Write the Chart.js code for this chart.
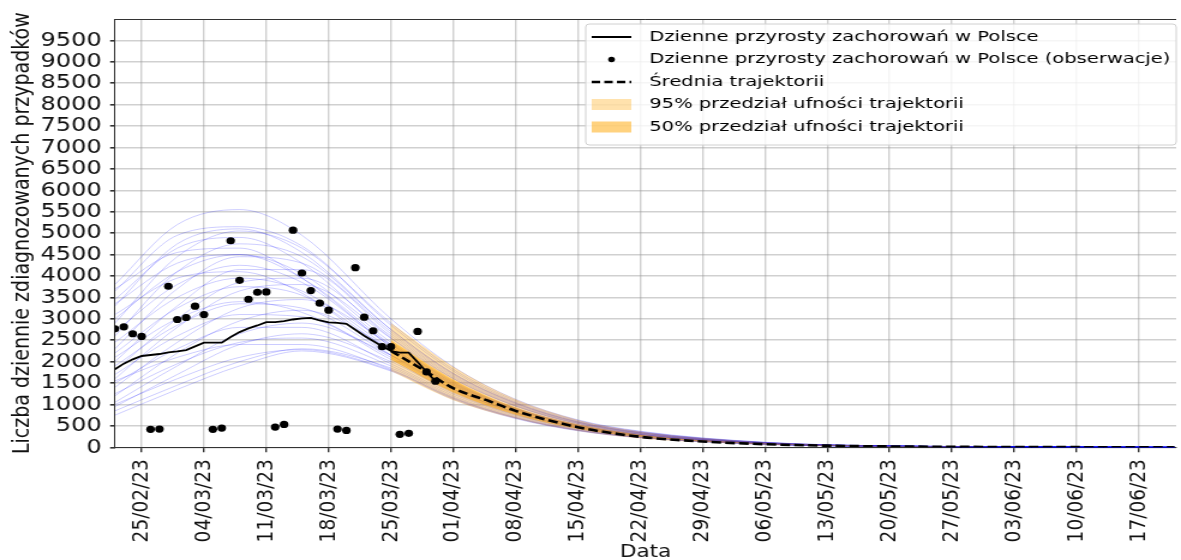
<!DOCTYPE html>
<html>
<head>
<meta charset="utf-8">
<script src="https://cdn.jsdelivr.net/npm/chart.js@4.4.0/dist/chart.umd.min.js"></script>
<style>
  html, body { margin: 0; padding: 0; background: #fff; overflow: hidden; }
</style>
</head>
<body>
<!-- the reference figure is stretched sideways, so the canvas is drawn narrower and widened by css -->
<canvas id="chart" width="984" height="560" style="width:1181px;height:560px"></canvas>
<script>
// x values are days counted from 22/02/23
const xTickLabels = ['25/02/23', '04/03/23', '11/03/23', '18/03/23', '25/03/23', '01/04/23', '08/04/23', '15/04/23',
  '22/04/23', '29/04/23', '06/05/23', '13/05/23', '20/05/23', '27/05/23', '03/06/23', '10/06/23', '17/06/23'];

// 22/02 .. 30/03, one value per day
const observed = [2767, 2814, 2651, 2589, 419, 426, 3760, 2984, 3031, 3295, 3101, 419, 450, 4822, 3899, 3457,
  3620, 3628, 473, 535, 5070, 4070, 3659, 3364, 3202, 426, 395, 4194, 3039, 2721, 2349, 2349, 302, 326, 2705, 1760, 1543];
const dailyCases = [1822, 1953, 2054, 2132, 2155, 2178, 2217, 2240, 2271, 2357, 2442, 2442, 2442, 2574, 2690, 2775,
  2845, 2922, 2922, 2946, 2984, 3008, 3023, 2961, 2915, 2907, 2884, 2744, 2605, 2481, 2357, 2248, 2209, 2209, 1990, 1760, 1543];

const meanDays = [31, 35, 38, 42, 45, 52, 59, 66, 73, 80, 87, 101, 119];
const meanTraj = [2250, 1760, 1380, 1080, 850, 470, 245, 135, 72, 38, 20, 6, 1];

const bandDays = [31, 38, 45, 52, 59, 66, 73, 80, 87, 101, 119];
const ci95Upper = [2900, 1880, 1120, 640, 370, 215, 120, 65, 35, 9, 1];
const ci95Lower = [1780, 1100, 670, 380, 205, 115, 60, 30, 15, 4, 0];
const ci50Upper = [2500, 1580, 930, 530, 295, 165, 90, 48, 25, 6, 0];
const ci50Lower = [2050, 1280, 760, 430, 240, 135, 72, 38, 19, 5, 0];

const trajDays = [0, 7, 14, 21, 31, 38, 45, 52, 59, 73, 87, 119];
const trajectories = [
  [3800, 5200, 5550, 4950, 3000, 1880, 1120, 640, 375, 118, 34, 1],
  [3650, 4950, 5150, 4700, 2850, 1780, 1060, 610, 355, 112, 32, 1],
  [3300, 4750, 5100, 4550, 2750, 1720, 1030, 590, 345, 108, 31, 1],
  [2900, 4450, 5050, 4650, 2900, 1820, 1090, 625, 365, 115, 33, 1],
  [3450, 4650, 4900, 4300, 2550, 1600, 960, 550, 320, 100, 29, 1],
  [2600, 4100, 4750, 4450, 2750, 1730, 1040, 595, 345, 108, 31, 1],
  [2300, 3700, 4450, 4300, 2700, 1700, 1020, 585, 340, 106, 30, 1],
  [3000, 4100, 4500, 4050, 2450, 1540, 920, 530, 308, 96, 27, 1],
  [2000, 3300, 4150, 4150, 2650, 1670, 1000, 575, 334, 104, 30, 1],
  [2700, 3800, 4250, 3850, 2350, 1480, 890, 510, 296, 92, 26, 1],
  [1800, 3000, 3850, 3950, 2600, 1640, 980, 565, 328, 102, 29, 1],
  [2450, 3500, 3950, 3650, 2300, 1450, 870, 500, 290, 90, 26, 1],
  [1600, 2800, 3650, 3800, 2550, 1610, 965, 555, 322, 100, 29, 1],
  [2200, 3250, 3750, 3550, 2250, 1420, 850, 490, 284, 88, 25, 1],
  [3100, 3950, 4100, 3600, 2150, 1360, 815, 470, 272, 85, 24, 1],
  [1400, 2450, 3250, 3450, 2400, 1510, 905, 520, 302, 94, 27, 1],
  [1900, 2850, 3350, 3250, 2150, 1360, 815, 470, 272, 85, 24, 1],
  [1200, 2200, 2950, 3200, 2300, 1450, 870, 500, 290, 90, 26, 1],
  [1700, 2600, 3100, 3050, 2050, 1300, 780, 450, 260, 81, 23, 1],
  [1050, 1900, 2650, 2900, 2150, 1360, 815, 470, 272, 85, 24, 1],
  [1500, 2300, 2800, 2800, 1950, 1240, 745, 430, 250, 78, 22, 1],
  [950, 1700, 2400, 2650, 2000, 1270, 760, 440, 255, 80, 23, 1],
  [1250, 1950, 2450, 2550, 1900, 1200, 720, 415, 240, 75, 21, 1],
  [750, 1350, 1900, 2250, 1780, 1120, 670, 385, 224, 70, 20, 0],
  [1000, 1600, 2100, 2280, 1800, 1140, 685, 395, 229, 72, 20, 0],
  [850, 1450, 2000, 2300, 1850, 1170, 700, 405, 235, 73, 21, 0],
  [3700, 4550, 4650, 3950, 2350, 1480, 890, 510, 296, 92, 26, 1],
  [2100, 3000, 3400, 3150, 2100, 1330, 800, 460, 266, 83, 24, 1],
  [1550, 2100, 2400, 2400, 1820, 1150, 690, 400, 232, 72, 20, 0],
  [3350, 4300, 4500, 3950, 2400, 1510, 905, 520, 302, 94, 27, 1]
];

const pts = (xs, ys) => xs.map((x, i) => ({ x: x, y: ys[i] }));
const obsDays = observed.map((_, i) => i);

Chart.defaults.font.family = "'DejaVu Sans', sans-serif";
Chart.defaults.color = '#111';

const datasets = [
  { label: 'Dzienne przyrosty zachorowań w Polsce (obserwacje)', data: pts(obsDays, observed), showLine: false,
    pointRadius: 3.6, pointBackgroundColor: '#000', pointBorderWidth: 0 },
  { label: 'Dzienne przyrosty zachorowań w Polsce', data: pts(obsDays, dailyCases), borderColor: '#000',
    borderWidth: 1.8, pointRadius: 0, tension: 0 },
  { label: 'Średnia trajektorii', data: pts(meanDays, meanTraj), borderColor: '#000', borderWidth: 2.6,
    borderDash: [8, 3.5], pointRadius: 0, cubicInterpolationMode: 'monotone' },
  { label: '50% przedział ufności trajektorii', data: pts(bandDays, ci50Upper), borderWidth: 0, pointRadius: 0,
    fill: '+1', backgroundColor: 'rgba(255,165,0,0.5)', cubicInterpolationMode: 'monotone' },
  { label: '', data: pts(bandDays, ci50Lower), borderWidth: 0, pointRadius: 0, cubicInterpolationMode: 'monotone' },
  { label: '95% przedział ufności trajektorii', data: pts(bandDays, ci95Upper), borderWidth: 0, pointRadius: 0,
    fill: '+1', backgroundColor: 'rgba(255,165,0,0.32)', cubicInterpolationMode: 'monotone' },
  { label: '', data: pts(bandDays, ci95Lower), borderWidth: 0, pointRadius: 0, cubicInterpolationMode: 'monotone' }
];
trajectories.forEach(t => {
  datasets.push({ label: '', data: pts(trajDays, t), borderColor: 'rgba(0,0,255,0.2)', borderWidth: 1,
    pointRadius: 0, cubicInterpolationMode: 'monotone' });
});

// top spine + matplotlib-like legend box
const frameLegend = {
  id: 'frameLegend',
  afterDraw(chart) {
    const { ctx, chartArea } = chart;
    ctx.save();
    ctx.strokeStyle = '#333';
    ctx.lineWidth = 1;
    ctx.beginPath();
    ctx.moveTo(chartArea.left, chartArea.top + 0.5);
    ctx.lineTo(chartArea.right, chartArea.top + 0.5);
    ctx.stroke();

    const bx = 488, by = 24, bw = 492, bh = 121;
    ctx.beginPath();
    ctx.roundRect(bx, by, bw, bh, 3);
    ctx.fillStyle = 'rgba(255,255,255,0.8)';
    ctx.fill();
    ctx.strokeStyle = '#d0d0d0';
    ctx.stroke();

    const ds = chart.data.datasets;
    const entries = [
      { d: ds[1], kind: 'line' },
      { d: ds[0], kind: 'dot' },
      { d: ds[2], kind: 'dash' },
      { d: ds[5], kind: 'patch' },
      { d: ds[3], kind: 'patch' }
    ];
    const x0 = 493, x1 = 526, tx = 541;
    ctx.font = "14px 'DejaVu Sans'";
    ctx.textBaseline = 'middle';
    entries.forEach((e, i) => {
      const y = 37 + i * 22.5;
      if (e.kind === 'line' || e.kind === 'dash') {
        ctx.strokeStyle = e.d.borderColor;
        ctx.lineWidth = e.d.borderWidth;
        ctx.setLineDash(e.kind === 'dash' ? [7, 3.5] : []);
        ctx.beginPath();
        ctx.moveTo(x0, y);
        ctx.lineTo(x1, y);
        ctx.stroke();
        ctx.setLineDash([]);
      } else if (e.kind === 'dot') {
        ctx.fillStyle = e.d.pointBackgroundColor;
        ctx.beginPath();
        ctx.arc((x0 + x1) / 2, y, 2.8, 0, Math.PI * 2);
        ctx.fill();
      } else {
        ctx.fillStyle = e.d.backgroundColor;
        ctx.fillRect(x0, y - 5.5, x1 - x0, 11);
      }
      // legend text is wider than tall in the reference
      ctx.save();
      ctx.translate(tx, y);
      ctx.scale(1.16, 1);
      ctx.fillStyle = '#000';
      ctx.fillText(e.d.label, 0, 0);
      ctx.restore();
    });
    ctx.restore();
  }
};

new Chart(document.getElementById('chart'), {
  type: 'line',
  data: { datasets: datasets },
  options: {
    responsive: false,
    animation: false,
    events: [],
    layout: { padding: { left: 0, right: 0, top: 16, bottom: 0 } },
    plugins: { legend: { display: false }, tooltip: { enabled: false } },
    scales: {
      x: {
        type: 'linear', min: 0, max: 119.2,
        afterBuildTicks: s => { s.ticks = xTickLabels.map((_, i) => ({ value: 3 + 7 * i })); },
        afterFit: s => { s.height = 112.7; },
        ticks: { autoSkip: false, minRotation: 90, maxRotation: 90, padding: 7, font: { size: 18.5 },
          callback: (v, i) => xTickLabels[i] },
        grid: { color: 'rgba(150,150,150,0.45)', lineWidth: 1.4, tickLength: 5, tickColor: '#333' },
        border: { color: '#333', width: 1 },
        title: { display: true, text: 'Data', font: { size: 18 }, padding: { top: 0, bottom: -3 } }
      },
      y: {
        min: 0, max: 10000,
        afterFit: s => { s.width = 95.75; },
        ticks: { stepSize: 500, autoSkip: false, padding: 7, font: { size: 20 },
          callback: v => (v < 10000 ? v : null) },
        grid: { color: 'rgba(150,150,150,0.45)', lineWidth: 1.6, tickLength: 4, tickColor: '#333' },
        border: { color: '#333', width: 1 },
        title: { display: true, text: 'Liczba dziennie zdiagnozowanych przypadków', font: { size: 19 },
          padding: { top: 7.3, bottom: 0 } }
      }
    }
  },
  plugins: [frameLegend]
});
</script>
</body>
</html>
